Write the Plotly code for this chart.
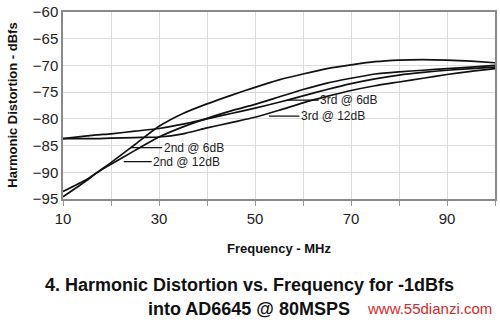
import plotly.graph_objects as go

freq = [10, 15, 17, 20, 25, 30, 35, 40, 45, 50, 55, 60, 65, 70, 75, 80, 85, 90, 95, 100]

second_a = [-94.6, -91.5, -90.1, -88.2, -84.8, -81.4, -79.0, -77.2, -75.6, -74.1,
            -72.7, -71.6, -70.6, -69.9, -69.3, -69.0, -68.9, -69.0, -69.2, -69.5]
second_b = [-93.6, -91.3, -90.1, -88.5, -85.9, -83.4, -81.5, -79.9, -78.5, -77.3,
            -75.9, -74.5, -73.3, -72.4, -71.6, -71.2, -70.9, -70.6, -70.3, -70.0]
third_a = [-83.7, -83.2, -83.0, -82.8, -82.3, -81.8, -81.0, -80.0, -79.0, -78.0,
           -76.9, -75.7, -74.5, -73.4, -72.5, -71.8, -71.3, -70.9, -70.6, -70.3]
third_b = [-83.7, -83.7, -83.7, -83.6, -83.5, -83.4, -82.8, -81.7, -80.7, -79.7,
           -78.4, -77.0, -75.8, -74.7, -73.8, -73.1, -72.4, -71.7, -71.1, -70.6]

x_ticks = [10, 30, 50, 70, 90]
y_ticks = [-60, -65, -70, -75, -80, -85, -90, -95]

FONT = "Liberation Sans, Arial, sans-serif"

fig = go.Figure()
for ys in (second_a, second_b, third_a, third_b):
    fig.add_trace(go.Scatter(x=freq, y=ys, mode="lines",
                             line=dict(color="#111111", width=1.7, shape="spline", smoothing=0.6),
                             showlegend=False, hoverinfo="skip"))

labels = [
    ("2nd @ 6dB", 24.3, -85.4, 62),
    ("2nd @ 12dB", 22.65, -88.0, 63),
    ("3rd @ 6dB", 56.7, -76.5, 62),
    ("3rd @ 12dB", 52.9, -79.5, 64),
]
for txt, lx, ly, ax in labels:
    fig.add_annotation(x=lx, y=ly, text=txt, showarrow=True, arrowhead=0, arrowwidth=1.3,
                       arrowcolor="#111111", ax=ax, ay=0, standoff=0,
                       font=dict(family=FONT, size=12, color="#222222"))

fig.add_annotation(xref="paper", yref="paper", x=-0.1175, y=0.5, text="<b>Harmonic Distortion - dBfs</b>",
                   textangle=-90, showarrow=False, font=dict(family=FONT, size=13, color="#111111"),
                   xanchor="center", yanchor="middle")
fig.add_annotation(xref="paper", yref="paper", x=0.5, y=-0.265, text="<b>Frequency - MHz</b>",
                   showarrow=False, font=dict(family=FONT, size=13, color="#111111"),
                   xanchor="center", yanchor="middle")
fig.add_annotation(xref="paper", yref="paper", x=0.431, y=-0.46,
                   text="<b>4. Harmonic Distortion vs. Frequency for -1dBfs</b>",
                   showarrow=False, font=dict(family=FONT, size=18, color="#111111"),
                   xanchor="center", yanchor="middle")
fig.add_annotation(xref="paper", yref="paper", x=0.431, y=-0.587,
                   text="<b>into AD6645 @ 80MSPS</b>",
                   showarrow=False, font=dict(family=FONT, size=18, color="#111111"),
                   xanchor="center", yanchor="middle")
fig.add_annotation(xref="paper", yref="paper", x=0.998, y=-0.587,
                   text="www.55dianzi.com",
                   showarrow=False, font=dict(family=FONT, size=15, color="#d42a2a"),
                   xanchor="right", yanchor="middle", bgcolor="white")

fig.update_xaxes(range=[10, 100], tickvals=x_ticks, ticks="outside", ticklen=5, tickcolor="#999999",
                 showgrid=True, gridcolor="#dcdcdc", gridwidth=1,
                 minor=dict(dtick=10, tick0=10, showgrid=True, gridcolor="#dcdcdc", ticks="outside",
                            ticklen=5, tickcolor="#999999"),
                 showline=True, linecolor="#8a8a8a", linewidth=1.5, mirror=True,
                 tickfont=dict(family=FONT, size=15, color="#222222"), zeroline=False)
fig.update_yaxes(range=[-95, -60], tickvals=y_ticks, ticks="",
                 showgrid=True, gridcolor="#dcdcdc", gridwidth=1,
                 showline=True, linecolor="#8a8a8a", linewidth=1.5, mirror=True,
                 tickfont=dict(family=FONT, size=15, color="#222222"), zeroline=False)

fig.update_layout(width=500, height=322, margin=dict(l=63, r=3, t=10, b=123),
                  paper_bgcolor="white", plot_bgcolor="white")

fig.write_html("out.html")
